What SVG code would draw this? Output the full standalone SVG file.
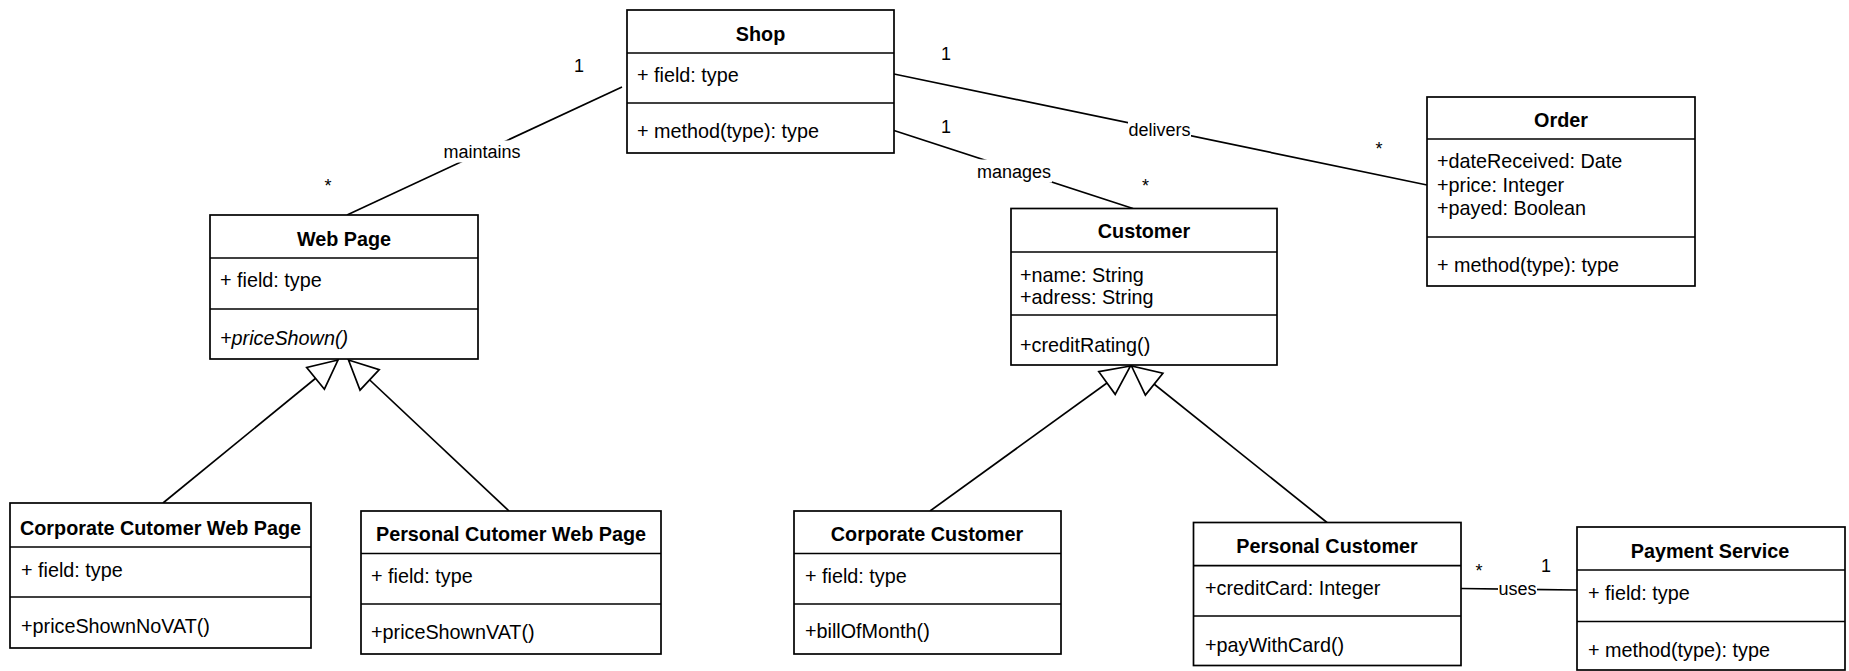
<svg xmlns="http://www.w3.org/2000/svg" width="1849" height="671" viewBox="0 0 1849 671">
  <style>
    .box { fill: #ffffff; stroke: #000000; stroke-width: 1.7; }
    .div { stroke: #000000; stroke-width: 1.7; }
    .title { font-family: "Liberation Sans", Arial, sans-serif; font-size: 19.8px; font-weight: bold; fill: #000000; text-anchor: middle; }
    .member { font-family: "Liberation Sans", Arial, sans-serif; font-size: 19.8px; fill: #000000; }
    .italic { font-style: italic; }
    .edge { fill: none; stroke: #000000; stroke-width: 1.7; }
    .gen { marker-end: url(#hollow); }
    .lbl { font-family: "Liberation Sans", Arial, sans-serif; font-size: 18px; fill: #000000; text-anchor: middle; }
    .mult { font-family: "Liberation Sans", Arial, sans-serif; font-size: 18px; fill: #000000; text-anchor: middle; }
    .lblbg { fill: #ffffff; stroke: none; }
  </style>
  <defs>
    <!-- hollow triangle for generalization -->
    <marker id="hollow" markerUnits="userSpaceOnUse" viewBox="-32 -17 35 34" markerWidth="35" markerHeight="34" refX="0" refY="0" orient="auto">
      <path d="M0,0 L-29,-14 L-29,14 Z" fill="#ffffff" stroke="#000000" stroke-width="1.7"/>
    </marker>
  </defs>

  <rect width="1849" height="671" fill="#ffffff"/>

  <!-- associations and generalizations -->
  <g id="connectors">
    <line class="edge" x1="347" y1="215" x2="622" y2="87"/>
    <line class="edge" x1="894" y1="74" x2="1427" y2="185"/>
    <line class="edge" x1="894" y1="130.5" x2="1133" y2="208.5"/>
    <line class="edge" x1="1461" y1="588.5" x2="1577" y2="590"/>

    <line class="edge gen" x1="163" y1="503" x2="338" y2="360"/>
    <line class="edge gen" x1="509" y1="511" x2="348.5" y2="360"/>
    <line class="edge gen" x1="930" y1="511" x2="1130.5" y2="366"/>
    <line class="edge gen" x1="1327" y1="522.5" x2="1131.5" y2="366"/>

    <!-- edge labels -->
    <rect class="lblbg" x="443" y="140.5" width="78" height="22"/>
    <text class="lbl" x="482" y="157.5">maintains</text>
    <rect class="lblbg" x="1128" y="118.5" width="63" height="22"/>
    <text class="lbl" x="1159.5" y="135.5">delivers</text>
    <rect class="lblbg" x="976" y="159.5" width="76" height="23"/>
    <text class="lbl" x="1014" y="177.5">manages</text>
    <rect class="lblbg" x="1498" y="580" width="39" height="19"/>
    <text class="lbl" x="1517.5" y="595">uses</text>

    <!-- multiplicities -->
    <text class="mult" x="579" y="72">1</text>
    <text class="mult" x="328" y="192">*</text>
    <text class="mult" x="946" y="60">1</text>
    <text class="mult" x="1379" y="155">*</text>
    <text class="mult" x="946" y="133">1</text>
    <text class="mult" x="1145.5" y="192">*</text>
    <text class="mult" x="1479" y="577">*</text>
    <text class="mult" x="1546" y="572">1</text>
  </g>

  <g id="shop">
    <rect class="box" x="627" y="10" width="267" height="143"/>
    <line class="div" x1="627" y1="53" x2="894" y2="53"/>
    <line class="div" x1="627" y1="103" x2="894" y2="103"/>
    <text class="title" x="760.5" y="41">Shop</text>
    <text class="member" x="637" y="82">+ field: type</text>
    <text class="member" x="637" y="138">+ method(type): type</text>
  </g>

  <g id="web-page">
    <rect class="box" x="210" y="215" width="268" height="144"/>
    <line class="div" x1="210" y1="258" x2="478" y2="258"/>
    <line class="div" x1="210" y1="309" x2="478" y2="309"/>
    <text class="title" x="344" y="246">Web Page</text>
    <text class="member" x="220" y="287">+ field: type</text>
    <text class="member italic" x="220" y="345">+priceShown()</text>
  </g>

  <g id="customer">
    <rect class="box" x="1011" y="208.5" width="266" height="156.5"/>
    <line class="div" x1="1011" y1="252" x2="1277" y2="252"/>
    <line class="div" x1="1011" y1="315" x2="1277" y2="315"/>
    <text class="title" x="1144" y="238">Customer</text>
    <text class="member" x="1020" y="282">+name: String</text>
    <text class="member" x="1020" y="304">+adress: String</text>
    <text class="member" x="1020" y="352">+creditRating()</text>
  </g>

  <g id="order">
    <rect class="box" x="1427" y="97" width="268" height="189"/>
    <line class="div" x1="1427" y1="139" x2="1695" y2="139"/>
    <line class="div" x1="1427" y1="237" x2="1695" y2="237"/>
    <text class="title" x="1561" y="127">Order</text>
    <text class="member" x="1437" y="168">+dateReceived: Date</text>
    <text class="member" x="1437" y="192">+price: Integer</text>
    <text class="member" x="1437" y="215">+payed: Boolean</text>
    <text class="member" x="1437" y="272">+ method(type): type</text>
  </g>

  <g id="corporate-cutomer-web-page">
    <rect class="box" x="10" y="503" width="301" height="145"/>
    <line class="div" x1="10" y1="547" x2="311" y2="547"/>
    <line class="div" x1="10" y1="597" x2="311" y2="597"/>
    <text class="title" x="160.5" y="535">Corporate Cutomer Web Page</text>
    <text class="member" x="21" y="577">+ field: type</text>
    <text class="member" x="21" y="633">+priceShownNoVAT()</text>
  </g>

  <g id="personal-cutomer-web-page">
    <rect class="box" x="361" y="511" width="300" height="143"/>
    <line class="div" x1="361" y1="553.5" x2="661" y2="553.5"/>
    <line class="div" x1="361" y1="604" x2="661" y2="604"/>
    <text class="title" x="511" y="541">Personal Cutomer Web Page</text>
    <text class="member" x="371" y="583">+ field: type</text>
    <text class="member" x="371" y="639">+priceShownVAT()</text>
  </g>

  <g id="corporate-customer">
    <rect class="box" x="794" y="511" width="267" height="143"/>
    <line class="div" x1="794" y1="553.5" x2="1061" y2="553.5"/>
    <line class="div" x1="794" y1="604" x2="1061" y2="604"/>
    <text class="title" x="927" y="541">Corporate Customer</text>
    <text class="member" x="805" y="583">+ field: type</text>
    <text class="member" x="805" y="638">+billOfMonth()</text>
  </g>

  <g id="personal-customer">
    <rect class="box" x="1193.5" y="522.5" width="267.5" height="143"/>
    <line class="div" x1="1193.5" y1="565.7" x2="1461" y2="565.7"/>
    <line class="div" x1="1193.5" y1="616" x2="1461" y2="616"/>
    <text class="title" x="1327" y="553">Personal Customer</text>
    <text class="member" x="1205" y="595">+creditCard: Integer</text>
    <text class="member" x="1205" y="651.5">+payWithCard()</text>
  </g>

  <g id="payment-service">
    <rect class="box" x="1577" y="527" width="268" height="143"/>
    <line class="div" x1="1577" y1="570" x2="1845" y2="570"/>
    <line class="div" x1="1577" y1="621.5" x2="1845" y2="621.5"/>
    <text class="title" x="1710" y="558">Payment Service</text>
    <text class="member" x="1588" y="600">+ field: type</text>
    <text class="member" x="1588" y="656.5">+ method(type): type</text>
  </g>
</svg>
